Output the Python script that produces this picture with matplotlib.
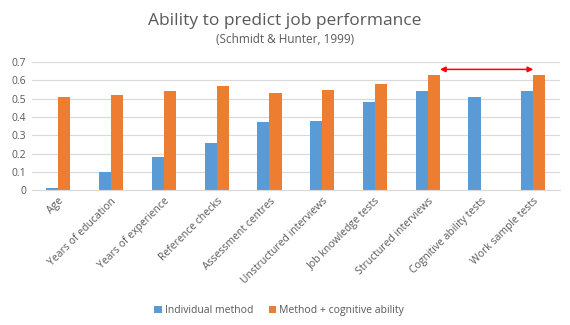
import matplotlib.pyplot as plt
import numpy as np

# validity coefficients per selection method
methods = ['Age', 'Years of education', 'Years of experience', 'Reference checks',
           'Assessment centres', 'Unstructured interviews', 'Job knowledge tests',
           'Structured interviews', 'Cognitive ability tests', 'Work sample tests']
individual = [0.01, 0.10, 0.18, 0.26, 0.37, 0.38, 0.48, 0.54, 0.51, 0.54]
combined = [0.51, 0.52, 0.54, 0.57, 0.53, 0.55, 0.58, 0.63, np.nan, 0.63]
yticks = [0, 0.1, 0.2, 0.3, 0.4, 0.5, 0.6, 0.7]

blue = '#5B9BD5'
orange = '#ED7D31'
grey = '#595959'

plt.rcParams['font.family'] = ['Open Sans', 'DejaVu Sans']

fig = plt.figure(figsize=(5.7, 3.25), dpi=100)
ax = fig.add_axes([0.056, 0.415, 0.926, 0.394])

x = np.arange(len(methods))
w = 0.23
ax.bar(x - w / 2, individual, w, color=blue, label='Individual method', zorder=2)
ax.bar(x + w / 2, combined, w, color=orange, label='Method + cognitive ability', zorder=2)

ax.set_xlim(-0.5, len(methods) - 0.5)
ax.set_ylim(0, 0.7)
ax.set_yticks(yticks)
ax.set_yticklabels([f'{v:g}' for v in yticks], fontsize=7.5, color=grey)
ax.set_xticks(x)
ax.set_xticklabels(methods, rotation=45, ha='right', rotation_mode='anchor',
                   fontsize=7.5, color=grey)
ax.tick_params(length=0, pad=4)
ax.grid(axis='y', color='#D9D9D9', linewidth=0.8, zorder=0)
for s in ax.spines.values():
    s.set_visible(False)
ax.spines['bottom'].set_visible(True)
ax.spines['bottom'].set_color('#D9D9D9')

# arrow linking structured interviews and work sample tests
ax.annotate('', xy=(9, 0.66), xytext=(7 + w, 0.66),
            arrowprops=dict(arrowstyle='<|-|>', color='red', lw=1.1,
                            mutation_scale=8, shrinkA=0, shrinkB=0))

fig.text(0.5, 0.935, 'Ability to predict job performance', ha='center', va='center',
         fontsize=12.5, color=grey)
fig.text(0.5, 0.877, '(Schmidt & Hunter, 1999)', ha='center', va='center',
         fontsize=8.5, color=grey)

fig.legend(loc='center', bbox_to_anchor=(0.49, 0.045), ncol=2, frameon=False,
           fontsize=7.5, handlelength=0.7, handleheight=0.7, handletextpad=0.3,
           columnspacing=1.5, labelcolor=grey)

fig.savefig('out.png', dpi=100)
